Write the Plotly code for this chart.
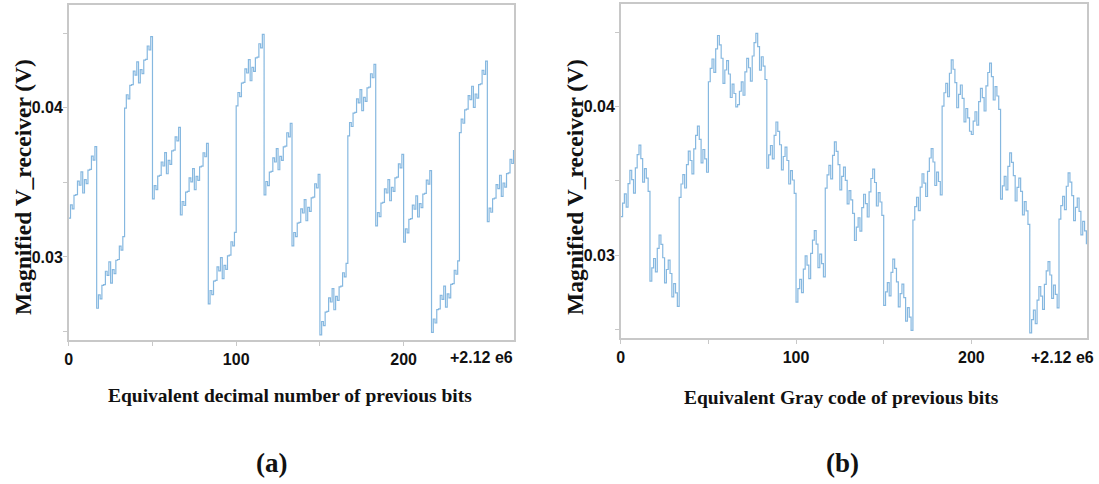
import plotly.graph_objects as go

# Sample spacing on the x axis (units of the "+2.12 e6" offset axis), one sample per bit pattern
BIT_STEP = 100 / 96

# Equivalent decimal number of previous bits (0..255) -> magnified receiver voltage (V)
decimal_v = [
    0.03260, 0.03350, 0.03323, 0.03413, 0.03418, 0.03508, 0.03481, 0.03571, 0.03429, 0.03519, 0.03492, 0.03582, 0.03587, 0.03677, 0.03650, 0.03740,
    0.02656, 0.02746, 0.02719, 0.02809, 0.02814, 0.02904, 0.02877, 0.02967, 0.02825, 0.02915, 0.02888, 0.02978, 0.02983, 0.03073, 0.03046, 0.03136,
    0.03998, 0.04088, 0.04061, 0.04151, 0.04156, 0.04246, 0.04219, 0.04309, 0.04167, 0.04257, 0.04230, 0.04320, 0.04325, 0.04415, 0.04388, 0.04478,
    0.03389, 0.03479, 0.03452, 0.03542, 0.03547, 0.03637, 0.03610, 0.03700, 0.03558, 0.03648, 0.03621, 0.03711, 0.03716, 0.03806, 0.03779, 0.03869,
    0.03282, 0.03372, 0.03345, 0.03435, 0.03440, 0.03530, 0.03503, 0.03593, 0.03451, 0.03541, 0.03514, 0.03604, 0.03609, 0.03699, 0.03672, 0.03762,
    0.02685, 0.02775, 0.02748, 0.02838, 0.02843, 0.02933, 0.02906, 0.02996, 0.02854, 0.02944, 0.02917, 0.03007, 0.03012, 0.03102, 0.03075, 0.03165,
    0.04013, 0.04103, 0.04076, 0.04166, 0.04171, 0.04261, 0.04234, 0.04324, 0.04182, 0.04272, 0.04245, 0.04335, 0.04340, 0.04430, 0.04403, 0.04493,
    0.03416, 0.03506, 0.03479, 0.03569, 0.03574, 0.03664, 0.03637, 0.03727, 0.03585, 0.03675, 0.03648, 0.03738, 0.03743, 0.03833, 0.03806, 0.03896,
    0.03074, 0.03164, 0.03137, 0.03227, 0.03232, 0.03322, 0.03295, 0.03385, 0.03243, 0.03333, 0.03306, 0.03396, 0.03401, 0.03491, 0.03464, 0.03554,
    0.02477, 0.02567, 0.02540, 0.02630, 0.02635, 0.02725, 0.02698, 0.02788, 0.02646, 0.02736, 0.02709, 0.02799, 0.02804, 0.02894, 0.02867, 0.02957,
    0.03812, 0.03902, 0.03875, 0.03965, 0.03970, 0.04060, 0.04033, 0.04123, 0.03981, 0.04071, 0.04044, 0.04134, 0.04139, 0.04229, 0.04202, 0.04292,
    0.03208, 0.03298, 0.03271, 0.03361, 0.03366, 0.03456, 0.03429, 0.03519, 0.03377, 0.03467, 0.03440, 0.03530, 0.03535, 0.03625, 0.03598, 0.03688,
    0.03099, 0.03189, 0.03162, 0.03252, 0.03257, 0.03347, 0.03320, 0.03410, 0.03268, 0.03358, 0.03331, 0.03421, 0.03426, 0.03516, 0.03489, 0.03579,
    0.02494, 0.02584, 0.02557, 0.02647, 0.02652, 0.02742, 0.02715, 0.02805, 0.02663, 0.02753, 0.02726, 0.02816, 0.02821, 0.02911, 0.02884, 0.02974,
    0.03834, 0.03924, 0.03897, 0.03987, 0.03992, 0.04082, 0.04055, 0.04145, 0.04003, 0.04093, 0.04066, 0.04156, 0.04161, 0.04251, 0.04224, 0.04314,
    0.03237, 0.03327, 0.03300, 0.03390, 0.03395, 0.03485, 0.03458, 0.03548, 0.03406, 0.03496, 0.03469, 0.03559, 0.03564, 0.03654, 0.03627, 0.03717,
]

# Equivalent Gray code of previous bits (0..255) -> magnified receiver voltage (V)
gray_v = [
    0.03260, 0.03350, 0.03413, 0.03323, 0.03481, 0.03571, 0.03508, 0.03418, 0.03587, 0.03677, 0.03740, 0.03650, 0.03492, 0.03582, 0.03519, 0.03429,
    0.02825, 0.02915, 0.02978, 0.02888, 0.03046, 0.03136, 0.03073, 0.02983, 0.02814, 0.02904, 0.02967, 0.02877, 0.02719, 0.02809, 0.02746, 0.02656,
    0.03389, 0.03479, 0.03542, 0.03452, 0.03610, 0.03700, 0.03637, 0.03547, 0.03716, 0.03806, 0.03869, 0.03779, 0.03621, 0.03711, 0.03648, 0.03558,
    0.04167, 0.04257, 0.04320, 0.04230, 0.04388, 0.04478, 0.04415, 0.04325, 0.04156, 0.04246, 0.04309, 0.04219, 0.04061, 0.04151, 0.04088, 0.03998,
    0.04013, 0.04103, 0.04166, 0.04076, 0.04234, 0.04324, 0.04261, 0.04171, 0.04340, 0.04430, 0.04493, 0.04403, 0.04245, 0.04335, 0.04272, 0.04182,
    0.03585, 0.03675, 0.03738, 0.03648, 0.03806, 0.03896, 0.03833, 0.03743, 0.03574, 0.03664, 0.03727, 0.03637, 0.03479, 0.03569, 0.03506, 0.03416,
    0.02685, 0.02775, 0.02838, 0.02748, 0.02906, 0.02996, 0.02933, 0.02843, 0.03012, 0.03102, 0.03165, 0.03075, 0.02917, 0.03007, 0.02944, 0.02854,
    0.03451, 0.03541, 0.03604, 0.03514, 0.03672, 0.03762, 0.03699, 0.03609, 0.03440, 0.03530, 0.03593, 0.03503, 0.03345, 0.03435, 0.03372, 0.03282,
    0.03099, 0.03189, 0.03252, 0.03162, 0.03320, 0.03410, 0.03347, 0.03257, 0.03426, 0.03516, 0.03579, 0.03489, 0.03331, 0.03421, 0.03358, 0.03268,
    0.02663, 0.02753, 0.02816, 0.02726, 0.02884, 0.02974, 0.02911, 0.02821, 0.02652, 0.02742, 0.02805, 0.02715, 0.02557, 0.02647, 0.02584, 0.02494,
    0.03237, 0.03327, 0.03390, 0.03300, 0.03458, 0.03548, 0.03485, 0.03395, 0.03564, 0.03654, 0.03717, 0.03627, 0.03469, 0.03559, 0.03496, 0.03406,
    0.04003, 0.04093, 0.04156, 0.04066, 0.04224, 0.04314, 0.04251, 0.04161, 0.03992, 0.04082, 0.04145, 0.04055, 0.03897, 0.03987, 0.03924, 0.03834,
    0.03812, 0.03902, 0.03965, 0.03875, 0.04033, 0.04123, 0.04060, 0.03970, 0.04139, 0.04229, 0.04292, 0.04202, 0.04044, 0.04134, 0.04071, 0.03981,
    0.03377, 0.03467, 0.03530, 0.03440, 0.03598, 0.03688, 0.03625, 0.03535, 0.03366, 0.03456, 0.03519, 0.03429, 0.03271, 0.03361, 0.03298, 0.03208,
    0.02477, 0.02567, 0.02630, 0.02540, 0.02698, 0.02788, 0.02725, 0.02635, 0.02804, 0.02894, 0.02957, 0.02867, 0.02709, 0.02799, 0.02736, 0.02646,
    0.03243, 0.03333, 0.03396, 0.03306, 0.03464, 0.03554, 0.03491, 0.03401, 0.03232, 0.03322, 0.03385, 0.03295, 0.03137, 0.03227, 0.03164, 0.03074,
]

pattern_index = list(range(256))
x_pos = [i * BIT_STEP for i in pattern_index]

x_tickvals = [0, 50, 100, 150, 200]
x_ticktext = ["0", "", "100", "", "200"]
y_tickvals = [0.025, 0.03, 0.035, 0.04, 0.045]
y_ticktext = ["", "0.03", "", "0.04", ""]
offset_label = "+2.12 e6"
y_title = "Magnified V_receiver (V)"
x_title_a = "Equivalent decimal number of previous bits"
x_title_b = "Equivalent Gray code of previous bits"

W, H = 1099, 484
LINE = "#86b8e0"
FRAME = "#c8c8c8"
TICKFONT = dict(family="Liberation Sans Narrow, Arial Narrow, Liberation Sans", size=16, color="#111", weight="bold")
SERIF = "Liberation Serif, Times New Roman, serif"

fig = go.Figure()
fig.add_trace(go.Scatter(x=x_pos, y=decimal_v, mode="lines",
                         line=dict(shape="hv", color=LINE, width=1.2),
                         xaxis="x", yaxis="y", showlegend=False, hoverinfo="skip"))
fig.add_trace(go.Scatter(x=x_pos, y=gray_v, mode="lines",
                         line=dict(shape="hv", color=LINE, width=1.2),
                         xaxis="x2", yaxis="y2", showlegend=False, hoverinfo="skip"))

def px_x(p):
    return p / W

def px_y(p):
    return 1 - p / H

common_x = dict(range=[0, 266], showline=True, mirror=True, linecolor=FRAME, linewidth=1.5,
                ticks="outside", ticklen=4, tickcolor=FRAME, tickwidth=1,
                tickvals=x_tickvals, ticktext=x_ticktext, showgrid=False, zeroline=False,
                tickfont=TICKFONT, fixedrange=True)
common_y = dict(range=[0.02443, 0.0469], showline=True, mirror=True, linecolor=FRAME, linewidth=1.5,
                ticks="outside", ticklen=4, tickcolor=FRAME, tickwidth=1,
                tickvals=y_tickvals, ticktext=y_ticktext, showgrid=False, zeroline=False,
                tickfont=TICKFONT, fixedrange=True, ticklabelstandoff=-3)

fig.update_layout(
    width=W, height=H,
    margin=dict(l=0, r=0, t=0, b=0),
    paper_bgcolor="white", plot_bgcolor="white",
    xaxis=dict(domain=[px_x(65), px_x(512)], anchor="y", **common_x),
    yaxis=dict(domain=[px_y(340), px_y(5)], anchor="x", **common_y),
    xaxis2=dict(domain=[px_x(619), px_x(1087)], anchor="y2", **common_x),
    yaxis2=dict(domain=[px_y(338), px_y(4)], anchor="x2", **common_y),
)

ann = []
for xc in (19, 573):
    ann.append(dict(text=y_title, x=px_x(xc), y=px_y(187), xref="paper", yref="paper",
                    textangle=-90, showarrow=False, xanchor="center", yanchor="middle",
                    font=dict(family=SERIF, size=23.5, color="#111", weight="bold")))
ann.append(dict(text=x_title_a, x=px_x(287), y=px_y(395), xref="paper", yref="paper",
                showarrow=False, xanchor="center", yanchor="middle",
                font=dict(family=SERIF, size=19.5, color="#111", weight="bold")))
ann.append(dict(text=x_title_b, x=px_x(841), y=px_y(397), xref="paper", yref="paper",
                showarrow=False, xanchor="center", yanchor="middle",
                font=dict(family=SERIF, size=19.5, color="#111", weight="bold")))
ann.append(dict(text="(a)", x=px_x(268), y=px_y(463), xref="paper", yref="paper",
                showarrow=False, xanchor="center", yanchor="middle",
                font=dict(family=SERIF, size=27, color="#111", weight="bold")))
ann.append(dict(text="(b)", x=px_x(842), y=px_y(463), xref="paper", yref="paper",
                showarrow=False, xanchor="center", yanchor="middle",
                font=dict(family=SERIF, size=27, color="#111", weight="bold")))
for xc in (479, 1062):
    ann.append(dict(text=offset_label, x=px_x(xc), y=px_y(357), xref="paper", yref="paper",
                    showarrow=False, xanchor="center", yanchor="middle", font=TICKFONT))
fig.update_layout(annotations=ann)

fig.write_html("out.html", include_plotlyjs=True, config={"displayModeBar": False})
